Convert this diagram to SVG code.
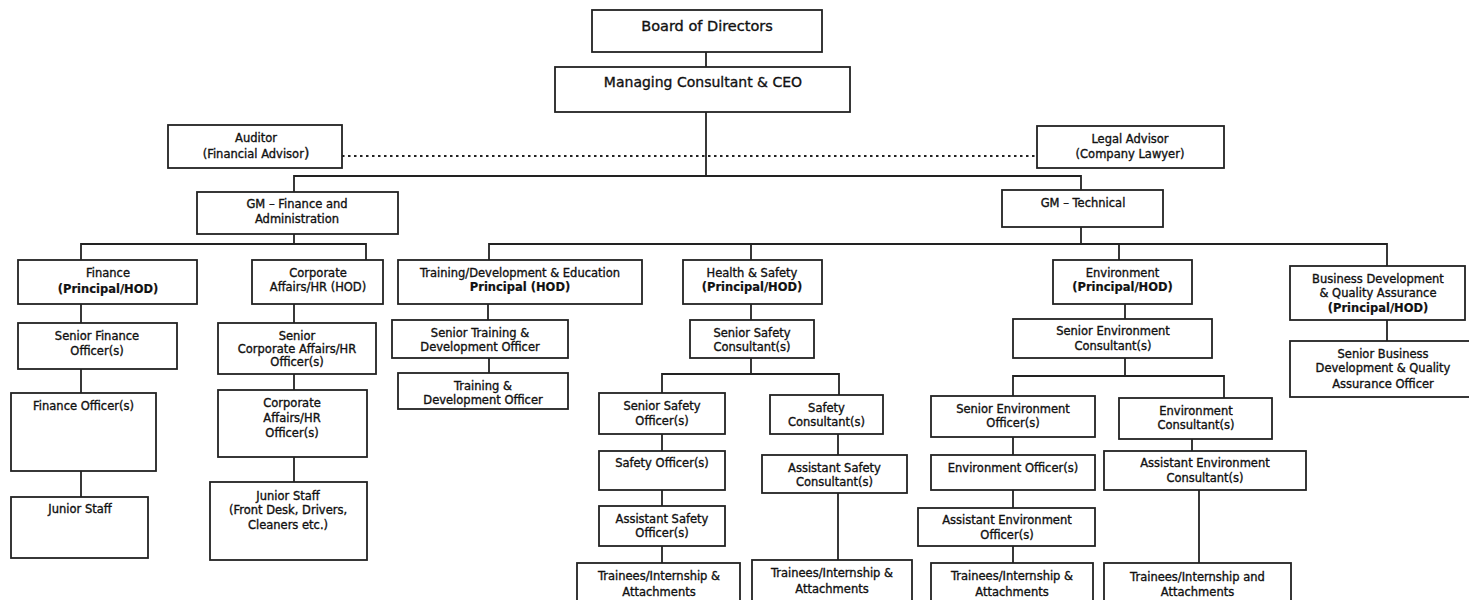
<svg xmlns="http://www.w3.org/2000/svg" width="1469" height="600" viewBox="0 0 1469 600">
<style>
.box{fill:#fff;stroke:#222;stroke-width:1.8}
.t{font-family:"DejaVu Sans","Liberation Sans",sans-serif;font-size:11.5px;text-anchor:middle;fill:#111;stroke:#111;stroke-width:0.35}
.b{font-weight:bold;stroke-width:0.2}
.conn line{stroke:#222;stroke-width:1.8}
.dot{stroke:#333;stroke-width:1.4;stroke-dasharray:2.5 3.5}
</style>
<rect width="1469" height="600" fill="#fff"/>
<g id="connectors" class="conn">
<line x1="706" y1="52" x2="706" y2="67"/>
<line x1="706" y1="112" x2="706" y2="176"/>
<line class="dot" x1="342" y1="156" x2="1037" y2="156"/>
<line x1="294" y1="176" x2="1081" y2="176"/>
<line x1="294" y1="175" x2="294" y2="192"/>
<line x1="1081" y1="175" x2="1081" y2="190"/>
<line x1="294" y1="234" x2="294" y2="244"/>
<line x1="81" y1="244" x2="366" y2="244"/>
<line x1="81" y1="243" x2="81" y2="260"/>
<line x1="366" y1="243" x2="366" y2="260"/>
<line x1="81" y1="304" x2="81" y2="323"/>
<line x1="81" y1="369" x2="81" y2="393"/>
<line x1="81" y1="471" x2="81" y2="497"/>
<line x1="294" y1="304" x2="294" y2="323"/>
<line x1="294" y1="374" x2="294" y2="390"/>
<line x1="294" y1="457" x2="294" y2="482"/>
<line x1="1081" y1="227" x2="1081" y2="244"/>
<line x1="489" y1="244" x2="1387" y2="244"/>
<line x1="489" y1="243" x2="489" y2="260"/>
<line x1="751" y1="243" x2="751" y2="260"/>
<line x1="1119" y1="243" x2="1119" y2="260"/>
<line x1="1387" y1="243" x2="1387" y2="266"/>
<line x1="488" y1="304" x2="488" y2="320"/>
<line x1="489" y1="358" x2="489" y2="373"/>
<line x1="751" y1="304" x2="751" y2="320"/>
<line x1="751" y1="358" x2="751" y2="374"/>
<line x1="662" y1="374" x2="839" y2="374"/>
<line x1="662" y1="373" x2="662" y2="393"/>
<line x1="839" y1="373" x2="839" y2="395"/>
<line x1="662" y1="434" x2="662" y2="451"/>
<line x1="662" y1="490" x2="662" y2="506"/>
<line x1="662" y1="546" x2="662" y2="563"/>
<line x1="838" y1="434" x2="838" y2="455"/>
<line x1="838" y1="493" x2="838" y2="560"/>
<line x1="1125" y1="302" x2="1125" y2="319"/>
<line x1="1125" y1="358" x2="1125" y2="376"/>
<line x1="1013" y1="376" x2="1224" y2="376"/>
<line x1="1013" y1="375" x2="1013" y2="396"/>
<line x1="1224" y1="375" x2="1224" y2="398"/>
<line x1="1013" y1="437" x2="1013" y2="455"/>
<line x1="1013" y1="490" x2="1013" y2="508"/>
<line x1="1013" y1="546" x2="1013" y2="563"/>
<line x1="1192" y1="439" x2="1192" y2="451"/>
<line x1="1199" y1="490" x2="1199" y2="563"/>
<line x1="1387" y1="320" x2="1387" y2="341"/>
</g>
<g id="board"><rect class="box" x="592" y="10" width="230" height="42"/><text class="t" x="707" y="31" style="font-size:14.5px">Board of Directors</text></g>
<g id="ceo"><rect class="box" x="555" y="67" width="295" height="45"/><text class="t" x="703" y="87" style="font-size:14px">Managing Consultant &amp; CEO</text></g>
<g id="auditor"><rect class="box" x="168" y="125" width="174" height="43"/><text class="t" x="256" y="142">Auditor</text><text class="t" x="256" y="158">(Financial Advisor<tspan style="font-size:14px">)</tspan></text></g>
<g id="legal"><rect class="box" x="1037" y="126" width="187" height="42"/><text class="t" x="1130" y="143">Legal Advisor</text><text class="t" x="1130" y="158">(Company Lawyer)</text></g>
<g id="gm-finance"><rect class="box" x="197" y="192" width="201" height="42"/><text class="t" x="297" y="208">GM – Finance and</text><text class="t" x="297" y="223">Administration</text></g>
<g id="gm-technical"><rect class="box" x="1002" y="190" width="161" height="37"/><text class="t" x="1083" y="207">GM – Technical</text></g>
<g id="finance"><rect class="box" x="18" y="260" width="179" height="44"/><text class="t" x="108" y="277">Finance</text><text class="t b" x="108" y="293">(Principal/HOD)</text></g>
<g id="corporate"><rect class="box" x="252" y="260" width="131" height="44"/><text class="t" x="318" y="277">Corporate</text><text class="t" x="318" y="291">Affairs/HR (HOD)</text></g>
<g id="senior-finance"><rect class="box" x="18" y="323" width="159" height="46"/><text class="t" x="97" y="340">Senior Finance</text><text class="t" x="97" y="355">Officer(s)</text></g>
<g id="finance-officer"><rect class="box" x="11" y="393" width="145" height="78"/><text class="t" x="83.5" y="410">Finance Officer(s)</text></g>
<g id="junior-staff-1"><rect class="box" x="11" y="497" width="137" height="61"/><text class="t" x="80" y="513">Junior Staff</text></g>
<g id="senior-corporate"><rect class="box" x="218" y="323" width="158" height="51"/><text class="t" x="297" y="340">Senior</text><text class="t" x="297" y="353">Corporate Affairs/HR</text><text class="t" x="297" y="366">Officer(s)</text></g>
<g id="corporate-officer"><rect class="box" x="218" y="390" width="149" height="67"/><text class="t" x="292" y="407">Corporate</text><text class="t" x="292" y="422">Affairs/HR</text><text class="t" x="292" y="437">Officer(s)</text></g>
<g id="junior-staff-2"><rect class="box" x="210" y="482" width="157" height="78"/><text class="t" x="288" y="500">Junior Staff</text><text class="t" x="288" y="514">(Front Desk, Drivers,</text><text class="t" x="288" y="529">Cleaners etc.)</text></g>
<g id="training"><rect class="box" x="398" y="260" width="244" height="44"/><text class="t" x="520" y="277">Training/Development &amp; Education</text><text class="t b" x="520" y="291">Principal (HOD)</text></g>
<g id="senior-training"><rect class="box" x="392" y="320" width="176" height="38"/><text class="t" x="480" y="337">Senior Training &amp;</text><text class="t" x="480" y="351">Development Officer</text></g>
<g id="training-officer"><rect class="box" x="398" y="373" width="170" height="36"/><text class="t" x="483" y="390">Training &amp;</text><text class="t" x="483" y="404">Development Officer</text></g>
<g id="health-safety"><rect class="box" x="683" y="260" width="139" height="44"/><text class="t" x="752" y="277">Health &amp; Safety</text><text class="t b" x="752" y="291">(Principal/HOD)</text></g>
<g id="senior-safety-consultant"><rect class="box" x="690" y="320" width="124" height="38"/><text class="t" x="752" y="337">Senior Safety</text><text class="t" x="752" y="351">Consultant(s)</text></g>
<g id="senior-safety-officer"><rect class="box" x="599" y="393" width="126" height="41"/><text class="t" x="662" y="410">Senior Safety</text><text class="t" x="662" y="425">Officer(s)</text></g>
<g id="safety-consultant"><rect class="box" x="770" y="395" width="113" height="39"/><text class="t" x="826.5" y="412">Safety</text><text class="t" x="826.5" y="426">Consultant(s)</text></g>
<g id="safety-officer"><rect class="box" x="599" y="451" width="126" height="39"/><text class="t" x="662" y="467">Safety Officer(s)</text></g>
<g id="assistant-safety-officer"><rect class="box" x="599" y="506" width="126" height="40"/><text class="t" x="662" y="523">Assistant Safety</text><text class="t" x="662" y="537">Officer(s)</text></g>
<g id="trainees-safety-1"><rect class="box" x="577" y="563" width="163" height="50"/><text class="t" x="659" y="580">Trainees/Internship &amp;</text><text class="t" x="659" y="596">Attachments</text></g>
<g id="assistant-safety-consultant"><rect class="box" x="762" y="455" width="145" height="38"/><text class="t" x="834.5" y="472">Assistant Safety</text><text class="t" x="834.5" y="486">Consultant(s)</text></g>
<g id="trainees-safety-2"><rect class="box" x="752" y="560" width="160" height="50"/><text class="t" x="832" y="577">Trainees/Internship &amp;</text><text class="t" x="832" y="593">Attachments</text></g>
<g id="environment"><rect class="box" x="1053" y="260" width="139" height="44"/><text class="t" x="1122.5" y="277">Environment</text><text class="t b" x="1122.5" y="291">(Principal/HOD)</text></g>
<g id="senior-env-consultant"><rect class="box" x="1013" y="319" width="199" height="39"/><text class="t" x="1113" y="335">Senior Environment</text><text class="t" x="1113" y="350">Consultant(s)</text></g>
<g id="senior-env-officer"><rect class="box" x="931" y="396" width="164" height="41"/><text class="t" x="1013" y="413">Senior Environment</text><text class="t" x="1013" y="427">Officer(s)</text></g>
<g id="env-officer"><rect class="box" x="931" y="455" width="164" height="35"/><text class="t" x="1013" y="472">Environment Officer(s)</text></g>
<g id="assistant-env-officer"><rect class="box" x="918" y="508" width="177" height="38"/><text class="t" x="1007" y="524">Assistant Environment</text><text class="t" x="1007" y="539">Officer(s)</text></g>
<g id="trainees-env-1"><rect class="box" x="931" y="563" width="162" height="50"/><text class="t" x="1012" y="580">Trainees/Internship &amp;</text><text class="t" x="1012" y="596">Attachments</text></g>
<g id="env-consultant"><rect class="box" x="1119" y="398" width="153" height="41"/><text class="t" x="1196" y="415">Environment</text><text class="t" x="1196" y="429">Consultant(s)</text></g>
<g id="assistant-env-consultant"><rect class="box" x="1104" y="451" width="202" height="39"/><text class="t" x="1205" y="467">Assistant Environment</text><text class="t" x="1205" y="482">Consultant(s)</text></g>
<g id="trainees-env-2"><rect class="box" x="1104" y="563" width="187" height="50"/><text class="t" x="1197.5" y="581">Trainees/Internship and</text><text class="t" x="1197.5" y="596">Attachments</text></g>
<g id="business-development"><rect class="box" x="1290" y="266" width="175" height="54"/><text class="t" x="1378" y="283">Business Development</text><text class="t" x="1378" y="297">&amp; Quality Assurance</text><text class="t b" x="1378" y="312">(Principal/HOD)</text></g>
<g id="senior-business-development"><rect class="box" x="1290" y="341" width="190" height="56"/><text class="t" x="1383" y="358">Senior Business</text><text class="t" x="1383" y="372">Development &amp; Quality</text><text class="t" x="1383" y="388">Assurance Officer</text></g>
</svg>
